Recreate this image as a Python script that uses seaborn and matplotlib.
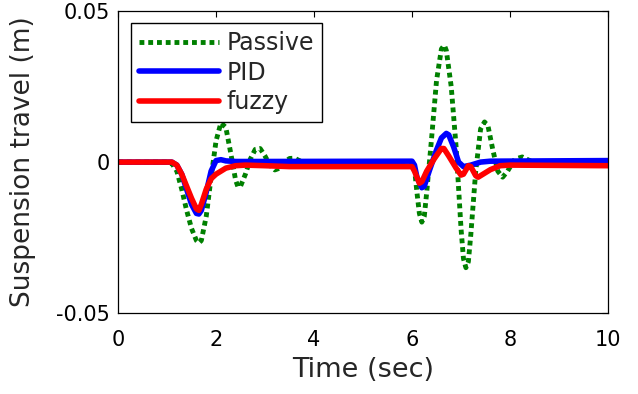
import matplotlib
matplotlib.use("Agg")
import matplotlib.pyplot as plt
import seaborn as sns

# Passive suspension response
t_passive = [0.0, 1.0, 1.1, 1.2, 1.3, 1.4, 1.5, 1.6, 1.65, 1.7, 1.8, 1.9, 2.0, 2.1, 2.2,
             2.3, 2.4, 2.45, 2.5, 2.6, 2.7, 2.8, 2.9, 3.0, 3.1, 3.2, 3.3, 3.4, 3.5, 3.6,
             3.7, 3.8, 4.0, 6.0, 6.05, 6.1, 6.15, 6.2, 6.25, 6.3, 6.4, 6.5, 6.6, 6.66,
             6.7, 6.8, 6.9, 7.0, 7.05, 7.1, 7.15, 7.2, 7.3, 7.4, 7.48, 7.55, 7.65, 7.75,
             7.85, 7.95, 8.1, 8.25, 8.4, 8.6, 10.0]
y_passive = [0.0, 0.0, -0.0005, -0.003, -0.009, -0.016, -0.022, -0.026, -0.0268, -0.026,
             -0.018, -0.005, 0.007, 0.013, 0.0115, 0.003, -0.006, -0.0083, -0.008, -0.004,
             0.001, 0.0042, 0.0045, 0.002, -0.001, -0.0026, -0.002, 0.0, 0.0012, 0.0013,
             0.0005, 0.0, 0.0, 0.0, -0.002, -0.01, -0.017, -0.0199, -0.018, -0.01, 0.008,
             0.027, 0.0375, 0.0387, 0.037, 0.025, 0.005, -0.022, -0.032, -0.035, -0.033,
             -0.024, -0.003, 0.011, 0.0133, 0.012, 0.004, -0.003, -0.005, -0.003, 0.001,
             0.0017, 0.0005, 0.0, 0.0]

# PID-controlled response
t_pid = [0.0, 1.1, 1.2, 1.3, 1.4, 1.5, 1.6, 1.65, 1.7, 1.8, 1.9, 2.0, 2.1, 2.2, 2.4, 3.0,
         6.0, 6.05, 6.1, 6.2, 6.25, 6.35, 6.5, 6.6, 6.7, 6.75, 6.85, 6.95, 7.05, 7.2, 7.4,
         7.6, 10.0]
y_pid = [0.0, 0.0, -0.001, -0.004, -0.009, -0.014, -0.017, -0.0172, -0.016, -0.01, -0.003,
         0.0005, 0.0008, 0.0004, 0.0002, 0.0002, 0.0003, -0.001, -0.005, -0.0085, -0.008,
         -0.003, 0.004, 0.008, 0.0095, 0.009, 0.005, 0.0, -0.0015, -0.001, 0.0, 0.0003,
         0.0005]

# Fuzzy-controlled response
t_fuzzy = [0.0, 1.1, 1.2, 1.3, 1.4, 1.5, 1.6, 1.65, 1.7, 1.8, 1.9, 2.0, 2.1, 2.2, 2.4, 2.6,
           3.0, 3.5, 6.0, 6.05, 6.15, 6.2, 6.3, 6.45, 6.6, 6.65, 6.75, 6.9, 7.0, 7.05, 7.15,
           7.2, 7.3, 7.35, 7.45, 7.6, 7.8, 8.0, 10.0]
y_fuzzy = [0.0, 0.0, -0.001, -0.004, -0.008, -0.012, -0.0155, -0.016, -0.014, -0.009,
           -0.0055, -0.004, -0.003, -0.002, -0.0012, -0.001, -0.0012, -0.0015, -0.0015,
           -0.003, -0.007, -0.0065, -0.003, 0.001, 0.0045, 0.0045, 0.002, -0.002, -0.0043,
           -0.004, -0.0012, -0.0015, -0.0045, -0.005, -0.004, -0.0025, -0.0012, -0.001,
           -0.0012]

x_ticks = [0, 2, 4, 6, 8, 10]
y_ticks = [-0.05, 0.0, 0.05]
y_tick_labels = ["-0.05", "0", "0.05"]
series_labels = ["Passive", "PID", "fuzzy"]

sns.set_theme(style="white")
plt.rcParams["font.family"] = ["DejaVu Sans"]

fig = plt.figure(figsize=(6.38, 3.94), dpi=100)
ax = fig.add_axes([0.185, 0.2056, 0.768, 0.766])

sns.lineplot(x=t_passive, y=y_passive, ax=ax, color="#008000", linewidth=3.5,
             sort=False, estimator=None)
sns.lineplot(x=t_pid, y=y_pid, ax=ax, color="#0000ff", linewidth=4.0,
             sort=False, estimator=None)
sns.lineplot(x=t_fuzzy, y=y_fuzzy, ax=ax, color="#ff0000", linewidth=4.0,
             sort=False, estimator=None)

lines = ax.get_lines()
lines[0].set_linestyle((0, (1.0, 0.8)))
lines[0].set_dash_capstyle("butt")
for ln in lines:
    ln.set_solid_joinstyle("round")

ax.set_xlim(0, 10)
ax.set_ylim(-0.05, 0.05)
ax.set_xticks(x_ticks)
ax.set_yticks(y_ticks)
ax.set_yticklabels(y_tick_labels)
ax.tick_params(direction="in", length=4, width=0.8, top=True, right=True,
               labelsize=15, colors="black")
ax.tick_params(axis="x", pad=12)
ax.tick_params(axis="y", pad=6)
for sp in ax.spines.values():
    sp.set_color("black")
    sp.set_linewidth(0.9)

ax.set_xlabel("Time (sec)", fontsize=19.5, labelpad=5)
ax.set_ylabel("Suspension travel (m)", fontsize=19, labelpad=14)

leg = ax.legend(lines, series_labels, loc="upper left", bbox_to_anchor=(0.026, 0.96),
                borderaxespad=0, fontsize=17, handlelength=3.4, handletextpad=0.34,
                labelspacing=0.24, borderpad=0.33, fancybox=False, framealpha=1,
                edgecolor="black")
leg.get_frame().set_linewidth(1.0)

fig.savefig("out.png", dpi=100)
